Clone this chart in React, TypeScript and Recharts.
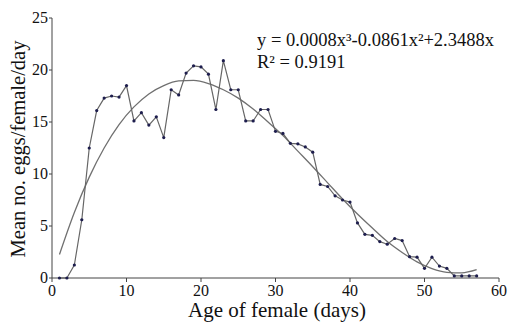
import React from "react";
import { LineChart, Line, XAxis, YAxis } from "recharts";

// Observed mean eggs per female per day, by age (days)
const days = [1,2,3,4,5,6,7,8,9,10,11,12,13,14,15,16,17,18,19,20,21,22,23,24,25,26,27,28,29,30,31,32,33,34,35,36,37,38,39,40,41,42,43,44,45,46,47,48,49,50,51,52,53,54,55,56,57];
const eggs = [0,0,1.25,5.6,12.5,16.1,17.3,17.5,17.4,18.5,15.1,15.9,14.7,15.5,13.5,18.1,17.6,19.7,20.4,20.3,19.6,16.2,20.9,18.1,18.1,15.1,15.1,16.2,16.2,14.1,13.9,12.95,12.9,12.6,12.1,9.0,8.8,7.9,7.5,7.3,5.3,4.2,4.1,3.5,3.25,3.8,3.6,2.05,2.0,0.93,2.0,1.15,0.93,0.2,0.2,0.2,0.2];

// Fitted trend line
const trendDays = [1,3,5,7,9,11,13,15,17,19,21,23,25,27,29,31,33,35,37,39,41,43,45,47,49,51,53,55,57];
const trendVals = [2.26,6.3,9.7,12.5,14.75,16.45,17.7,18.5,18.95,19.0,18.7,18.1,17.3,16.25,15.0,13.7,12.2,10.7,9.15,7.6,6.15,4.8,3.5,2.45,1.55,0.9,0.55,0.5,0.8];

const xTicks = [0,10,20,30,40,50,60];
const yTicks = [0,5,10,15,20,25];

const observed = days.map((d, i) => ({ day: d, value: eggs[i] }));
const trend = trendDays.map((d, i) => ({ day: d, value: trendVals[i] }));

const serif = "Liberation Serif, Times New Roman, serif";

const YLabel = () => {
  const cy = 149;
  return (
    <text
      x={25}
      y={cy}
      transform={`rotate(-90, 25, ${cy})`}
      textAnchor="middle"
      fill="#111"
      fontSize={20.5}
      fontFamily={serif}
    >
      Mean no. eggs/female/day
    </text>
  );
};

const XLabel = () => (
  <text x={277} y={317} textAnchor="middle" fill="#111" fontSize={21} fontFamily={serif}>
    Age of female (days)
  </text>
);

const XTick = (props: any) => {
  const { x, y, payload } = props;
  return (
    <text x={x} y={y + 12} textAnchor="middle" fill="#111" fontSize={16} fontFamily={serif}>
      {payload.value}
    </text>
  );
};

const YTick = (props: any) => {
  const { x, y, payload } = props;
  return (
    <text x={x} y={y + 5} textAnchor="end" fill="#111" fontSize={16} fontFamily={serif}>
      {payload.value}
    </text>
  );
};

export default function App() {
  return (
    <div style={{ position: "absolute", left: 0, top: 0, width: 508, height: 322, background: "#fff" }}>
      <LineChart
        width={508}
        height={322}
        margin={{ top: 18, right: 9, bottom: 0, left: 0 }}
        style={{ fontFamily: serif }}
      >
        <XAxis
          type="number"
          dataKey="day"
          domain={[0, 60]}
          ticks={xTicks}
          allowDuplicatedCategory={false}
          height={44}
          stroke="#444"
          tickSize={4}
          tick={<XTick />}
          tickMargin={2}
          label={<XLabel />}
        />
        <YAxis
          type="number"
          domain={[0, 25]}
          ticks={yTicks}
          width={52}
          stroke="#444"
          tickSize={3}
          tickMargin={1}
          tick={<YTick />}
          label={<YLabel />}
        />
        <Line
          data={trend}
          dataKey="value"
          type="monotone"
          stroke="#707070"
          strokeWidth={1.3}
          dot={false}
          isAnimationActive={false}
        />
        <Line
          data={observed}
          dataKey="value"
          type="linear"
          stroke="#666"
          strokeWidth={1.2}
          dot={{ r: 1.6, fill: "#1d1d4d", stroke: "none" }}
          isAnimationActive={false}
        />
      </LineChart>
      <div style={{ position: "absolute", left: 257, top: 29, fontFamily: serif, fontSize: 18.5, lineHeight: "22px", color: "#111", whiteSpace: "nowrap" }}>
        <div>y = 0.0008x³-0.0861x²+2.3488x</div>
        <div>R² = 0.9191</div>
      </div>
    </div>
  );
}
